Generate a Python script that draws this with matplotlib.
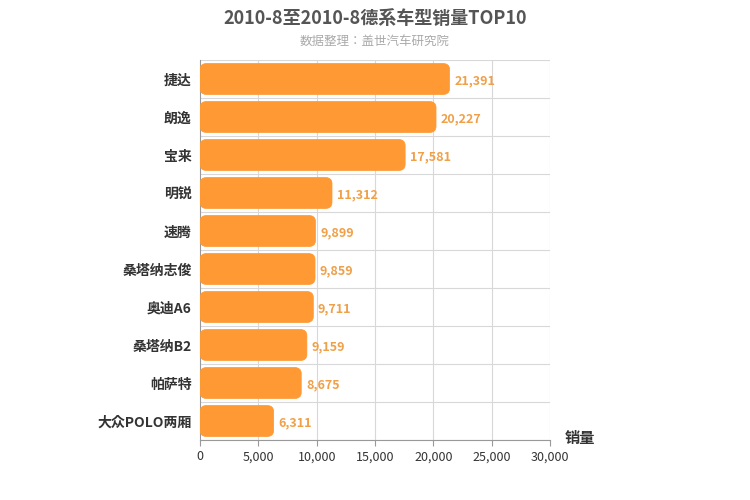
import matplotlib.pyplot as plt
from matplotlib import font_manager
from matplotlib.patches import FancyBboxPatch

cjk = [f.name for f in font_manager.fontManager.ttflist if "CJK" in f.name]
cjk_name = "Noto Sans CJK SC" if "Noto Sans CJK SC" in cjk else (cjk[0] if cjk else "DejaVu Sans")
plt.rcParams["font.family"] = "sans-serif"
plt.rcParams["font.sans-serif"] = [cjk_name, "DejaVu Sans"]

models = ["捷达", "朗逸", "宝来", "明锐", "速腾", "桑塔纳志俊", "奥迪A6", "桑塔纳B2", "帕萨特", "大众POLO两厢"]
sales = [21391, 20227, 17581, 11312, 9899, 9859, 9711, 9159, 8675, 6311]
xticks = [0, 5000, 10000, 15000, 20000, 25000, 30000]

fig = plt.figure(figsize=(7.5, 5), dpi=100)
ax = fig.add_axes([0.2667, 0.12, 0.4667, 0.76])
n = len(models)
ax.set_xlim(0, 30000)
ax.set_ylim(n - 0.5, -0.5)

bar_h = 0.82
for i, v in enumerate(sales):
    ax.add_patch(FancyBboxPatch(
        (0, i - bar_h / 2), v, bar_h,
        boxstyle="round,pad=0,rounding_size=600",
        mutation_aspect=0.16 / 600,
        facecolor="#ff9933", edgecolor="#ff9933", linewidth=0.5, zorder=3))
    ax.text(v + 400, i + 0.05, f"{v:,}", va="center", ha="left",
            color="#f0a048", fontsize=9, fontweight="bold", zorder=4)

for x in xticks[1:]:
    ax.axvline(x, color="#d8d8d8", lw=0.8, zorder=0)
for b in range(n + 1):
    ax.axhline(b - 0.5, color="#d8d8d8", lw=0.8, zorder=0)

ax.set_yticks(range(n))
ax.set_yticklabels(models, fontsize=10, fontweight="bold", color="#333333")
ax.set_xticks(xticks)
ax.set_xticklabels([f"{x:,}" for x in xticks], fontsize=9, color="#333333")
ax.tick_params(axis="y", length=0, pad=6)
ax.tick_params(axis="x", length=4, color="#999999")
for s in ["top", "right"]:
    ax.spines[s].set_visible(False)
ax.spines["left"].set_color("#999999")
ax.spines["bottom"].set_color("#999999")

fig.text(0.5, 0.963, "2010-8至2010-8德系车型销量TOP10", ha="center", va="center",
         fontsize=13, fontweight="bold", color="#555555")
fig.text(0.5, 0.918, "数据整理：盖世汽车研究院", ha="center", va="center",
         fontsize=9, color="#aaaaaa")
fig.text(0.773, 0.123, "销量", ha="center", va="center", fontsize=11,
         fontweight="bold", color="#333333")

fig.savefig("out.png", dpi=100)
